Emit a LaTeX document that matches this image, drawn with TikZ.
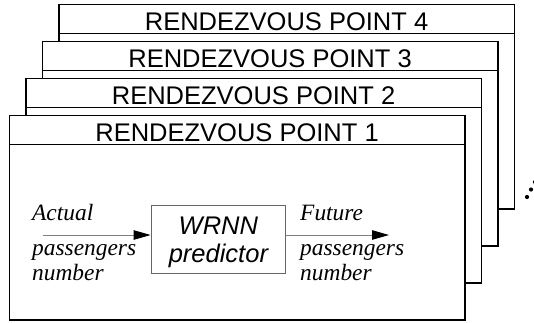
\documentclass[tikz,border=0pt]{standalone}
\usepackage{fontspec}
\setmainfont{Liberation Serif}
\setsansfont{Liberation Sans}
\usetikzlibrary{arrows.meta, positioning}

\begin{document}
\begin{tikzpicture}[x=1pt, y=-1pt,
  panel/.style={rectangle, draw=black, fill=white, line width=1.6pt, anchor=north west,
                minimum width=455.5pt, minimum height=204.6pt, inner sep=0pt},
  head/.style={rectangle, draw=black, fill=white, line width=1.6pt, anchor=north,
               minimum width=455.5pt, minimum height=29pt, inner sep=0pt,
               text height=22.7pt, text depth=0pt, font=\sffamily\fontsize{25.5}{25.5}\selectfont},
  predictor/.style={rectangle, draw=gray!80!black, line width=0.9pt, inner sep=0pt,
                    minimum width=134.7pt, minimum height=67.3pt, align=center,
                    font=\sffamily\itshape\fontsize{25.5}{27.7}\selectfont},
  lbl/.style={anchor=base west, inner sep=0pt, font=\itshape\fontsize{23.4}{23.4}\selectfont},
  flow/.style={-{Triangle[length=17pt, width=9.5pt, black]}, gray, line width=0.9pt},
  dot/.style={circle, fill=black, inner sep=0pt, minimum size=4.2pt},
]
\useasboundingbox (0,0) rectangle (534,322);
\foreach \k in {4,3,2,1} {
  \node[panel] (p\k) at ({8.5+(\k-1)*16.5}, {114.7-(\k-1)*37}) {};
  \node[head] (h\k) at (p\k.north) {RENDEZVOUS POINT \k};
}
\node[predictor] (wrnn) at (218.4, 239.4) {\rule{0pt}{24pt}WRNN\\predictor};
\coordinate (in) at (42.7, 235);
\coordinate (out) at (389, 235);
\draw[flow] (in) -- (in -| wrnn.west);
\draw[flow] (wrnn.east |- out) -- (out);
\node[lbl] (actual) at (32, 220.7) {Actual};
\node[lbl] (passin) at (32, 255) {passengers};
\node[lbl] (numin) at (32, 280.7) {number};
\node[lbl] (future) at (300, 220.7) {Future};
\node[lbl] (passout) at (300, 255) {passengers};
\node[lbl] (numout) at (300, 280.7) {number};
\node[dot] (d1) at (527, 197) {};
\node[dot] (d2) at (531, 189.5) {};
\node[dot] (d3) at (535, 182) {};
\end{tikzpicture}
\end{document}
